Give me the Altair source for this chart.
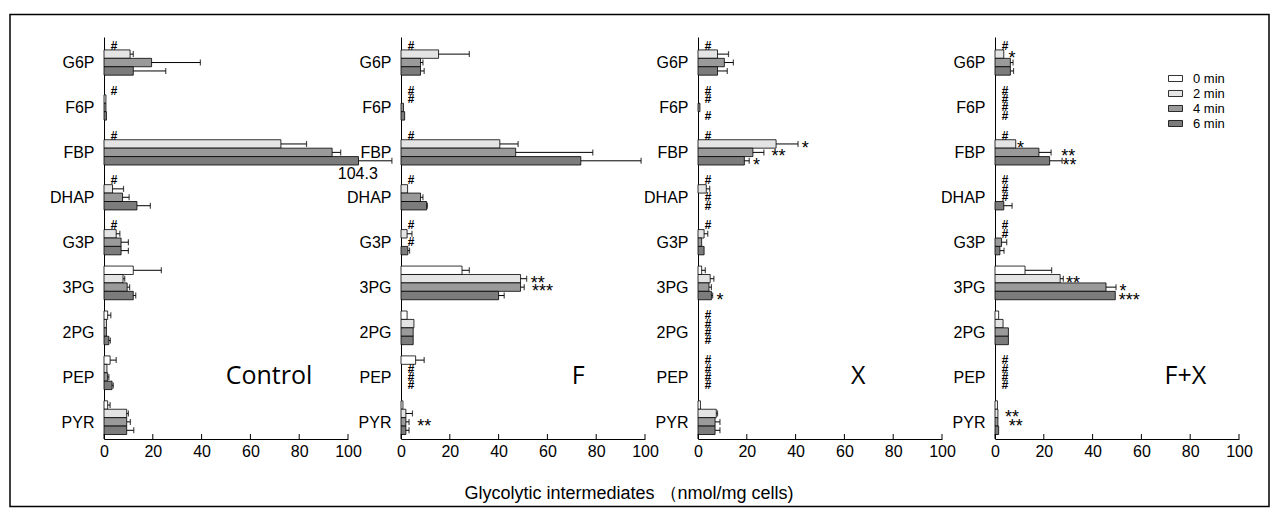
import altair as alt
import pandas as pd

categories = ["G6P", "F6P", "FBP", "DHAP", "G3P", "3PG", "2PG", "PEP", "PYR"]
times = ["0 min", "2 min", "4 min", "6 min"]
panel_names = ["Control", "F", "X", "F+X"]
N = None

# values (nmol/mg cells), in category order
control_0 = [0, 0, 0, 0, 0, 12, 1.5, 2.5, 1.5]
control_2 = [10.7, 0.8, 72.5, 3.5, 5, 7.8, 1, 1.2, 9.3]
control_4 = [19.5, 0.8, 93.5, 7.6, 7, 9.5, 1, 1.5, 9.3]
control_6 = [12, 1, 104.3, 13.5, 7, 12, 2, 3.3, 9.3]
control_0_err = [N, N, N, N, N, 23.5, 2.8, 5, 2.5]
control_2_err = [12, N, 83, 8, 6.5, 8.5, N, N, 10]
control_4_err = [39.5, N, 97, 10.3, 10, 10.5, N, 2, 10.8]
control_6_err = [25.3, N, 118, 19, 10, 13, 2.6, 3.8, 12.2]

f_0 = [0, 0, 0, 0, 0, 25, 2.5, 6, 0.8]
f_2 = [15.4, 0, 40.5, 2.7, 2.5, 49, 5.3, 0, 2]
f_4 = [8, 1, 47, 8, 0, 49, 5, 0, 2]
f_6 = [8, 1.5, 73.7, 10.5, 2.8, 40, 5, 0, 2]
f_0_err = [N, N, N, N, N, 28, N, 9.5, N]
f_2_err = [28, N, 48, N, 4.5, 51.5, N, N, 4.7]
f_4_err = [9, N, 78.6, 9, N, 50.5, N, N, 3.3]
f_6_err = [9.5, N, 98.4, 10.8, 3.5, 42.3, N, N, 3.3]

x_0 = [0, 0, 0, 0, 0, 1.5, 0, 0, 1]
x_2 = [8, 0, 32, 3.4, 2.5, 5, 0, 0, 7.5]
x_4 = [10.8, 0.8, 22.5, 0, 1.5, 4.5, 0, 0, 7]
x_6 = [8, 0, 19, 0, 2.5, 5.5, 0, 0, 7]
x_0_err = [N, N, N, N, N, 3, N, N, N]
x_2_err = [12.5, N, 41, 4.8, 4, 6.5, N, N, 8]
x_4_err = [14.5, N, 27, N, N, 5.5, N, N, 9]
x_6_err = [12, N, 21, N, N, 6, N, N, 9]

fx_0 = [0, 0, 0, 0, 0, 12.3, 1.5, 0, 1]
fx_2 = [3.6, 0, 8.5, 0, 0, 26.7, 3.3, 0, 1.2]
fx_4 = [6.3, 0, 18, 0, 2.7, 45.5, 5.5, 0, 1.2]
fx_6 = [6.3, 0, 22.4, 3.6, 2, 49.3, 5.5, 0, 1.5]
fx_0_err = [N, N, N, N, N, 23.2, N, N, N]
fx_2_err = [N, N, N, N, N, 28, N, N, N]
fx_4_err = [7.4, N, 23, N, 4.8, 49.6, N, N, N]
fx_6_err = [7.6, N, 27.5, 7, 3.7, N, N, N, N]

series = {
    "Control": ([control_0, control_2, control_4, control_6],
                [control_0_err, control_2_err, control_4_err, control_6_err]),
    "F": ([f_0, f_2, f_4, f_6], [f_0_err, f_2_err, f_4_err, f_6_err]),
    "X": ([x_0, x_2, x_4, x_6], [x_0_err, x_2_err, x_4_err, x_6_err]),
    "F+X": ([fx_0, fx_2, fx_4, fx_6], [fx_0_err, fx_2_err, fx_4_err, fx_6_err]),
}

# "#" marks: (panel, metabolite, time)
hash_marks = (
    [("Control", m, "0 min") for m in ["G6P", "F6P", "FBP", "DHAP", "G3P"]]
    + [("F", m, "0 min") for m in ["G6P", "F6P", "FBP", "DHAP", "G3P"]]
    + [("F", "F6P", "2 min"), ("F", "G3P", "4 min"),
       ("F", "PEP", "2 min"), ("F", "PEP", "4 min"), ("F", "PEP", "6 min")]
    + [("X", m, "0 min") for m in ["G6P", "F6P", "FBP", "DHAP", "G3P"]]
    + [("X", "F6P", "2 min"), ("X", "F6P", "6 min"),
       ("X", "DHAP", "4 min"), ("X", "DHAP", "6 min")]
    + [("X", "2PG", t) for t in times] + [("X", "PEP", t) for t in times]
    + [("F+X", "G6P", "0 min"), ("F+X", "FBP", "0 min"),
       ("F+X", "DHAP", "0 min"), ("F+X", "DHAP", "2 min"), ("F+X", "DHAP", "4 min"),
       ("F+X", "G3P", "0 min"), ("F+X", "G3P", "2 min")]
    + [("F+X", "F6P", t) for t in times] + [("F+X", "PEP", t) for t in times]
)
hash_x = 4

# asterisk marks: (panel, metabolite, time, x, text)
star_marks = [
    ("F", "3PG", "2 min", 56, "**"), ("F", "3PG", "4 min", 58, "***"),
    ("F", "PYR", "4 min", 9.5, "**"),
    ("X", "FBP", "2 min", 44, "*"), ("X", "FBP", "4 min", 33, "**"),
    ("X", "FBP", "6 min", 24, "*"), ("X", "3PG", "6 min", 9, "*"),
    ("F+X", "G6P", "2 min", 7, "*"), ("F+X", "FBP", "2 min", 10.5, "*"),
    ("F+X", "FBP", "4 min", 30, "**"), ("F+X", "FBP", "6 min", 30.5, "**"),
    ("F+X", "3PG", "2 min", 32, "**"), ("F+X", "3PG", "4 min", 52.5, "*"),
    ("F+X", "3PG", "6 min", 55, "***"),
    ("F+X", "PYR", "2 min", 7, "**"), ("F+X", "PYR", "4 min", 8.5, "**"),
]

panel_label_x = [67.6, 72.6, 65.7, 78]
value_note = ("Control", "FBP", "6 min", 104, "104.3")
x_ticks = [0, 20, 40, 60, 80, 100]
fills = ["#ffffff", "#e4e4e4", "#9a9a9a", "#7c7c7c"]
x_title = "Glycolytic intermediates  （nmol/mg cells)"

rows = []
for p in panel_names:
    vals, errs = series[p]
    for ti, t in enumerate(times):
        for ci, c in enumerate(categories):
            rows.append({"panel": p, "metabolite": c, "time": t,
                         "value": vals[ti][ci], "err": errs[ti][ci]})
df = pd.DataFrame(rows)
hash_df = pd.DataFrame(hash_marks, columns=["panel", "metabolite", "time"])
hash_df["x"] = hash_x
star_df = pd.DataFrame(star_marks, columns=["panel", "metabolite", "time", "x", "text"])
label_df = pd.DataFrame({"panel": panel_names, "x": panel_label_x, "metabolite": "PEP"})
tick_df = pd.DataFrame({"x": x_ticks})

W, H = 244, 402

yenc = alt.Y("metabolite:N", sort=categories, title=None,
             scale=alt.Scale(domain=categories, paddingInner=0.25, paddingOuter=0.1),
             axis=alt.Axis(ticks=False, labelPadding=10, labelOffset=5))
yoff = alt.YOffset("time:N", sort=times, scale=alt.Scale(domain=times, paddingInner=0, paddingOuter=0))
xscale = alt.Scale(domain=[0, 100], nice=False)
xaxis = alt.Axis(values=x_ticks, ticks=False, labelPadding=4, title=None, grid=False, labelFlush=False)


def make_panel(i, name):
    d = df[(df.panel == name) & (df.value > 0)]
    e = df[(df.panel == name) & df.err.notna()]
    bars = alt.Chart(d).mark_bar(stroke="black", strokeWidth=0.8).encode(
        x=alt.X("value:Q", scale=xscale, axis=xaxis),
        y=yenc, yOffset=yoff,
        fill=alt.Fill("time:N", sort=times, scale=alt.Scale(domain=times, range=fills),
                      legend=alt.Legend(title=None, orient="none", legendX=1064, legendY=34,
                                        symbolType="M-1,-0.43H1V0.43H-1Z", symbolSize=196,
                                        symbolStrokeColor="black", symbolStrokeWidth=0.8,
                                        labelFontSize=13, labelFont="Liberation Sans",
                                        labelColor="black", rowPadding=-5, labelOffset=10,
                                        padding=0)),
    )
    rules = alt.Chart(e).mark_rule(color="black", strokeWidth=1).encode(
        x="value:Q", x2="err:Q", y=yenc, yOffset=yoff)
    caps = alt.Chart(e).mark_tick(orient="vertical", color="black", size=6, thickness=1.2).encode(
        x="err:Q", y=yenc, yOffset=yoff)
    hs = alt.Chart(hash_df[hash_df.panel == name]).mark_text(
        text="#", fontSize=12, fontStyle="italic", fontWeight="bold", font="Liberation Sans",
        color="black", align="center", baseline="middle").encode(
        x="x:Q", y=yenc, yOffset=yoff)
    st = alt.Chart(star_df[star_df.panel == name]).mark_text(
        fontSize=18, font="Liberation Sans", color="black", align="center",
        baseline="middle", dy=5).encode(
        x="x:Q", y=yenc, yOffset=yoff, text="text:N")
    lab = alt.Chart(label_df[label_df.panel == name]).mark_text(
        fontSize=25, font="Open Sans", color="black", align="center", baseline="middle", dy=3).encode(
        x="x:Q", y=yenc, text="panel:N")
    tk = alt.Chart(tick_df).mark_rule(color="black", strokeWidth=1).encode(
        x="x:Q", y=alt.value(H), y2=alt.value(H - 5))
    layers = [bars, rules, caps, hs, st, lab, tk]
    if name == "Control":
        nd = pd.DataFrame([value_note], columns=["panel", "metabolite", "time", "x", "text"])
        layers.append(alt.Chart(nd).mark_text(fontSize=16, font="Liberation Sans", color="black",
                                              align="center", baseline="middle", dy=13).encode(
            x="x:Q", y=yenc, yOffset=yoff, text="text:N"))
        frame = alt.Chart(pd.DataFrame({"a": [0]})).mark_rect(
            fillOpacity=0, stroke="black", strokeWidth=1.5).encode(
            x=alt.value(-94), x2=alt.value(1165), y=alt.value(-22.5), y2=alt.value(469.5))
        layers.append(frame)
    if name == "F":
        layers.append(alt.Chart(pd.DataFrame({"t": [x_title]})).mark_text(
            fontSize=18, font="Liberation Sans", color="black", align="center", baseline="middle").encode(
            text="t:N", x=alt.value(228), y=alt.value(456.5)))
    return alt.layer(*layers).properties(width=W, height=H)


chart = alt.hconcat(*[make_panel(i, n) for i, n in enumerate(panel_names)],
                    spacing=53, bounds="flush").properties(
    padding={"left": 1, "top": 5, "right": 0, "bottom": 0}
).configure_view(stroke=None).configure_axis(
    domainColor="black", domainWidth=1, labelColor="black",
    labelFont="Liberation Sans", labelFontSize=16, grid=False
)

chart.save("out.html", embed_options={"renderer": "svg", "actions": False})
